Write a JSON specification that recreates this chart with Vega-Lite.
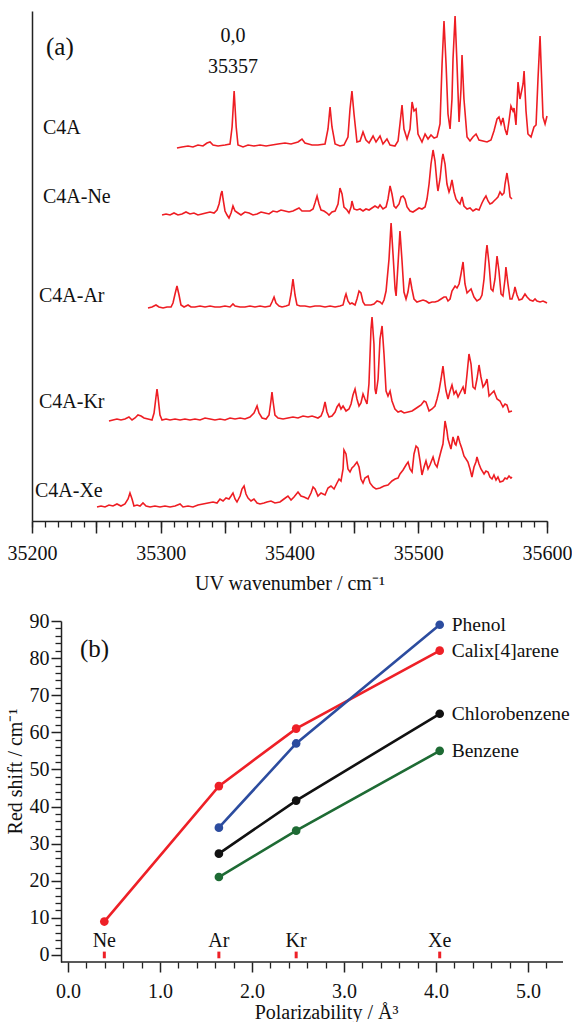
{
"$schema": "https://vega.github.io/schema/vega-lite/v6.json",
"padding": {"left": 5, "top": 11, "right": 0, "bottom": 0},
"config": {"font": "Liberation Serif", "view": {"stroke": null}, "axis": {"grid": false, "labelColor": "#111", "titleColor": "#111", "tickColor": "#222", "domainColor": "#222", "labelFont": "Liberation Serif", "titleFont": "Liberation Serif", "titleFontWeight": "normal"}},
"bounds": "flush",
"spacing": 100,
"datasets": {
"spec": [
{"s":"C4A","wn":35312.6,"y":373},{"s":"C4A","wn":35316.5,"y":374},{"s":"C4A","wn":35321.2,"y":375},{"s":"C4A","wn":35325.0,"y":374},{"s":"C4A","wn":35328.9,"y":376},{"s":"C4A","wn":35332.8,"y":375},{"s":"C4A","wn":35335.9,"y":378},{"s":"C4A","wn":35338.3,"y":379},{"s":"C4A","wn":35340.6,"y":376},{"s":"C4A","wn":35344.5,"y":375},{"s":"C4A","wn":35349.9,"y":376},{"s":"C4A","wn":35353.8,"y":377},{"s":"C4A","wn":35355.4,"y":394},{"s":"C4A","wn":35357.0,"y":430},{"s":"C4A","wn":35358.6,"y":394},{"s":"C4A","wn":35360.0,"y":376},{"s":"C4A","wn":35363.9,"y":374},{"s":"C4A","wn":35367.8,"y":376},{"s":"C4A","wn":35372.4,"y":375},{"s":"C4A","wn":35377.1,"y":376},{"s":"C4A","wn":35381.8,"y":375},{"s":"C4A","wn":35386.4,"y":376},{"s":"C4A","wn":35391.1,"y":377},{"s":"C4A","wn":35396.5,"y":378},{"s":"C4A","wn":35401.2,"y":377},{"s":"C4A","wn":35406.6,"y":379},{"s":"C4A","wn":35409.7,"y":382},{"s":"C4A","wn":35412.0,"y":378},{"s":"C4A","wn":35417.5,"y":376},{"s":"C4A","wn":35422.1,"y":376},{"s":"C4A","wn":35427.6,"y":377},{"s":"C4A","wn":35429.9,"y":392},{"s":"C4A","wn":35431.5,"y":414},{"s":"C4A","wn":35433.0,"y":394},{"s":"C4A","wn":35435.4,"y":377},{"s":"C4A","wn":35439.2,"y":375},{"s":"C4A","wn":35442.3,"y":376},{"s":"C4A","wn":35445.4,"y":384},{"s":"C4A","wn":35447.0,"y":412},{"s":"C4A","wn":35448.5,"y":430},{"s":"C4A","wn":35450.1,"y":407},{"s":"C4A","wn":35452.4,"y":379},{"s":"C4A","wn":35454.8,"y":380},{"s":"C4A","wn":35457.1,"y":389},{"s":"C4A","wn":35459.4,"y":381},{"s":"C4A","wn":35461.8,"y":378},{"s":"C4A","wn":35464.9,"y":385},{"s":"C4A","wn":35467.2,"y":379},{"s":"C4A","wn":35470.3,"y":385},{"s":"C4A","wn":35472.6,"y":377},{"s":"C4A","wn":35475.7,"y":382},{"s":"C4A","wn":35478.1,"y":376},{"s":"C4A","wn":35481.9,"y":375},{"s":"C4A","wn":35484.3,"y":380},{"s":"C4A","wn":35485.8,"y":397},{"s":"C4A","wn":35487.4,"y":416},{"s":"C4A","wn":35488.9,"y":392},{"s":"C4A","wn":35491.3,"y":382},{"s":"C4A","wn":35493.6,"y":392},{"s":"C4A","wn":35495.2,"y":419},{"s":"C4A","wn":35496.7,"y":410},{"s":"C4A","wn":35498.3,"y":412},{"s":"C4A","wn":35499.8,"y":387},{"s":"C4A","wn":35502.9,"y":379},{"s":"C4A","wn":35505.3,"y":387},{"s":"C4A","wn":35507.6,"y":382},{"s":"C4A","wn":35509.9,"y":386},{"s":"C4A","wn":35512.3,"y":383},{"s":"C4A","wn":35514.6,"y":384},{"s":"C4A","wn":35516.9,"y":397},{"s":"C4A","wn":35518.5,"y":457},{"s":"C4A","wn":35520.0,"y":500},{"s":"C4A","wn":35521.6,"y":457},{"s":"C4A","wn":35523.1,"y":407},{"s":"C4A","wn":35524.7,"y":392},{"s":"C4A","wn":35526.2,"y":422},{"s":"C4A","wn":35527.0,"y":462},{"s":"C4A","wn":35528.6,"y":505},{"s":"C4A","wn":35530.1,"y":457},{"s":"C4A","wn":35531.7,"y":399},{"s":"C4A","wn":35533.2,"y":432},{"s":"C4A","wn":35534.0,"y":466},{"s":"C4A","wn":35535.5,"y":422},{"s":"C4A","wn":35537.9,"y":384},{"s":"C4A","wn":35540.2,"y":380},{"s":"C4A","wn":35542.5,"y":384},{"s":"C4A","wn":35544.9,"y":387},{"s":"C4A","wn":35547.2,"y":381},{"s":"C4A","wn":35550.3,"y":380},{"s":"C4A","wn":35553.4,"y":379},{"s":"C4A","wn":35556.5,"y":381},{"s":"C4A","wn":35558.8,"y":390},{"s":"C4A","wn":35561.2,"y":402},{"s":"C4A","wn":35562.7,"y":404},{"s":"C4A","wn":35564.3,"y":397},{"s":"C4A","wn":35565.8,"y":403},{"s":"C4A","wn":35567.4,"y":392},{"s":"C4A","wn":35568.9,"y":386},{"s":"C4A","wn":35570.5,"y":400},{"s":"C4A","wn":35572.0,"y":415},{"s":"C4A","wn":35573.6,"y":410},{"s":"C4A","wn":35574.4,"y":413},{"s":"C4A","wn":35575.9,"y":396},{"s":"C4A","wn":35577.5,"y":439},{"s":"C4A","wn":35579.0,"y":422},{"s":"C4A","wn":35579.8,"y":427},{"s":"C4A","wn":35581.4,"y":437},{"s":"C4A","wn":35582.2,"y":450},{"s":"C4A","wn":35583.7,"y":410},{"s":"C4A","wn":35585.2,"y":387},{"s":"C4A","wn":35587.6,"y":384},{"s":"C4A","wn":35589.9,"y":394},{"s":"C4A","wn":35591.5,"y":396},{"s":"C4A","wn":35593.0,"y":442},{"s":"C4A","wn":35594.6,"y":485},{"s":"C4A","wn":35596.1,"y":432},{"s":"C4A","wn":35596.9,"y":404},{"s":"C4A","wn":35598.5,"y":397},{"s":"C4A","wn":35600.0,"y":405},
{"s":"Ne","wn":35301.0,"y":306},{"s":"Ne","wn":35304.1,"y":307},{"s":"Ne","wn":35307.2,"y":306},{"s":"Ne","wn":35310.3,"y":308},{"s":"Ne","wn":35313.4,"y":306},{"s":"Ne","wn":35316.5,"y":307},{"s":"Ne","wn":35319.6,"y":309},{"s":"Ne","wn":35322.7,"y":307},{"s":"Ne","wn":35325.8,"y":308},{"s":"Ne","wn":35328.9,"y":306},{"s":"Ne","wn":35332.0,"y":307},{"s":"Ne","wn":35335.1,"y":308},{"s":"Ne","wn":35338.3,"y":309},{"s":"Ne","wn":35341.4,"y":308},{"s":"Ne","wn":35343.7,"y":311},{"s":"Ne","wn":35345.3,"y":317},{"s":"Ne","wn":35346.8,"y":327},{"s":"Ne","wn":35347.6,"y":330},{"s":"Ne","wn":35348.4,"y":322},{"s":"Ne","wn":35349.9,"y":310},{"s":"Ne","wn":35351.5,"y":306},{"s":"Ne","wn":35353.0,"y":303},{"s":"Ne","wn":35354.6,"y":308},{"s":"Ne","wn":35356.1,"y":315},{"s":"Ne","wn":35357.7,"y":310},{"s":"Ne","wn":35360.0,"y":308},{"s":"Ne","wn":35362.3,"y":306},{"s":"Ne","wn":35365.4,"y":309},{"s":"Ne","wn":35368.6,"y":308},{"s":"Ne","wn":35371.7,"y":306},{"s":"Ne","wn":35374.8,"y":307},{"s":"Ne","wn":35377.9,"y":309},{"s":"Ne","wn":35381.0,"y":308},{"s":"Ne","wn":35384.1,"y":307},{"s":"Ne","wn":35387.2,"y":310},{"s":"Ne","wn":35390.3,"y":309},{"s":"Ne","wn":35393.4,"y":311},{"s":"Ne","wn":35396.5,"y":310},{"s":"Ne","wn":35399.6,"y":309},{"s":"Ne","wn":35402.7,"y":310},{"s":"Ne","wn":35405.8,"y":312},{"s":"Ne","wn":35407.4,"y":313},{"s":"Ne","wn":35409.7,"y":310},{"s":"Ne","wn":35412.8,"y":310},{"s":"Ne","wn":35415.9,"y":310},{"s":"Ne","wn":35418.3,"y":312},{"s":"Ne","wn":35419.8,"y":318},{"s":"Ne","wn":35421.4,"y":325},{"s":"Ne","wn":35422.9,"y":317},{"s":"Ne","wn":35424.5,"y":311},{"s":"Ne","wn":35426.8,"y":310},{"s":"Ne","wn":35429.1,"y":308},{"s":"Ne","wn":35430.7,"y":306},{"s":"Ne","wn":35433.0,"y":309},{"s":"Ne","wn":35435.4,"y":310},{"s":"Ne","wn":35437.7,"y":317},{"s":"Ne","wn":35439.2,"y":333},{"s":"Ne","wn":35440.8,"y":327},{"s":"Ne","wn":35442.3,"y":314},{"s":"Ne","wn":35444.7,"y":311},{"s":"Ne","wn":35446.2,"y":308},{"s":"Ne","wn":35447.8,"y":314},{"s":"Ne","wn":35448.5,"y":320},{"s":"Ne","wn":35450.1,"y":312},{"s":"Ne","wn":35452.4,"y":311},{"s":"Ne","wn":35454.8,"y":312},{"s":"Ne","wn":35457.1,"y":310},{"s":"Ne","wn":35459.4,"y":312},{"s":"Ne","wn":35461.8,"y":311},{"s":"Ne","wn":35464.1,"y":313},{"s":"Ne","wn":35466.4,"y":315},{"s":"Ne","wn":35468.8,"y":313},{"s":"Ne","wn":35470.3,"y":316},{"s":"Ne","wn":35472.6,"y":312},{"s":"Ne","wn":35475.0,"y":314},{"s":"Ne","wn":35476.5,"y":322},{"s":"Ne","wn":35478.1,"y":335},{"s":"Ne","wn":35479.6,"y":327},{"s":"Ne","wn":35481.2,"y":315},{"s":"Ne","wn":35482.7,"y":313},{"s":"Ne","wn":35485.1,"y":317},{"s":"Ne","wn":35486.6,"y":324},{"s":"Ne","wn":35488.2,"y":325},{"s":"Ne","wn":35489.7,"y":322},{"s":"Ne","wn":35491.3,"y":314},{"s":"Ne","wn":35493.6,"y":310},{"s":"Ne","wn":35495.9,"y":309},{"s":"Ne","wn":35498.3,"y":311},{"s":"Ne","wn":35500.6,"y":313},{"s":"Ne","wn":35502.9,"y":312},{"s":"Ne","wn":35505.3,"y":314},{"s":"Ne","wn":35506.8,"y":322},{"s":"Ne","wn":35508.4,"y":337},{"s":"Ne","wn":35509.9,"y":357},{"s":"Ne","wn":35511.5,"y":371},{"s":"Ne","wn":35513.0,"y":360},{"s":"Ne","wn":35514.6,"y":337},{"s":"Ne","wn":35515.3,"y":330},{"s":"Ne","wn":35516.9,"y":342},{"s":"Ne","wn":35518.5,"y":362},{"s":"Ne","wn":35519.2,"y":367},{"s":"Ne","wn":35520.8,"y":357},{"s":"Ne","wn":35522.3,"y":337},{"s":"Ne","wn":35523.9,"y":329},{"s":"Ne","wn":35524.7,"y":332},{"s":"Ne","wn":35526.2,"y":341},{"s":"Ne","wn":35527.0,"y":335},{"s":"Ne","wn":35527.8,"y":329},{"s":"Ne","wn":35529.3,"y":322},{"s":"Ne","wn":35530.9,"y":319},{"s":"Ne","wn":35532.4,"y":317},{"s":"Ne","wn":35534.0,"y":324},{"s":"Ne","wn":35535.5,"y":315},{"s":"Ne","wn":35537.9,"y":312},{"s":"Ne","wn":35540.2,"y":313},{"s":"Ne","wn":35542.5,"y":310},{"s":"Ne","wn":35544.9,"y":312},{"s":"Ne","wn":35547.2,"y":311},{"s":"Ne","wn":35549.5,"y":318},{"s":"Ne","wn":35551.1,"y":322},{"s":"Ne","wn":35552.6,"y":325},{"s":"Ne","wn":35554.2,"y":320},{"s":"Ne","wn":35555.7,"y":317},{"s":"Ne","wn":35557.3,"y":318},{"s":"Ne","wn":35558.8,"y":320},{"s":"Ne","wn":35560.4,"y":322},{"s":"Ne","wn":35561.9,"y":324},{"s":"Ne","wn":35563.5,"y":329},{"s":"Ne","wn":35565.1,"y":326},{"s":"Ne","wn":35566.6,"y":328},{"s":"Ne","wn":35567.4,"y":337},{"s":"Ne","wn":35568.9,"y":348},{"s":"Ne","wn":35570.5,"y":334},{"s":"Ne","wn":35571.3,"y":324},{"s":"Ne","wn":35572.8,"y":322},
{"s":"Ar","wn":35290.1,"y":213},{"s":"Ar","wn":35293.2,"y":214},{"s":"Ar","wn":35296.3,"y":216},{"s":"Ar","wn":35298.6,"y":214},{"s":"Ar","wn":35301.8,"y":213},{"s":"Ar","wn":35304.9,"y":214},{"s":"Ar","wn":35308.0,"y":214},{"s":"Ar","wn":35309.5,"y":218},{"s":"Ar","wn":35311.1,"y":227},{"s":"Ar","wn":35312.6,"y":235},{"s":"Ar","wn":35314.2,"y":226},{"s":"Ar","wn":35315.7,"y":216},{"s":"Ar","wn":35318.1,"y":214},{"s":"Ar","wn":35321.2,"y":216},{"s":"Ar","wn":35323.5,"y":214},{"s":"Ar","wn":35326.6,"y":214},{"s":"Ar","wn":35330.5,"y":215},{"s":"Ar","wn":35334.4,"y":214},{"s":"Ar","wn":35338.3,"y":215},{"s":"Ar","wn":35342.1,"y":214},{"s":"Ar","wn":35346.0,"y":214},{"s":"Ar","wn":35349.9,"y":215},{"s":"Ar","wn":35353.8,"y":214},{"s":"Ar","wn":35356.1,"y":217},{"s":"Ar","wn":35357.7,"y":215},{"s":"Ar","wn":35361.6,"y":214},{"s":"Ar","wn":35365.4,"y":214},{"s":"Ar","wn":35369.3,"y":215},{"s":"Ar","wn":35373.2,"y":214},{"s":"Ar","wn":35377.1,"y":215},{"s":"Ar","wn":35381.0,"y":214},{"s":"Ar","wn":35384.9,"y":215},{"s":"Ar","wn":35386.4,"y":219},{"s":"Ar","wn":35388.0,"y":224},{"s":"Ar","wn":35389.5,"y":218},{"s":"Ar","wn":35391.9,"y":215},{"s":"Ar","wn":35394.2,"y":214},{"s":"Ar","wn":35397.3,"y":215},{"s":"Ar","wn":35399.6,"y":216},{"s":"Ar","wn":35401.2,"y":227},{"s":"Ar","wn":35402.7,"y":242},{"s":"Ar","wn":35404.3,"y":226},{"s":"Ar","wn":35405.8,"y":216},{"s":"Ar","wn":35408.2,"y":215},{"s":"Ar","wn":35412.0,"y":215},{"s":"Ar","wn":35415.9,"y":214},{"s":"Ar","wn":35419.8,"y":215},{"s":"Ar","wn":35423.7,"y":215},{"s":"Ar","wn":35427.6,"y":214},{"s":"Ar","wn":35431.5,"y":215},{"s":"Ar","wn":35435.4,"y":214},{"s":"Ar","wn":35439.2,"y":215},{"s":"Ar","wn":35441.6,"y":216},{"s":"Ar","wn":35443.1,"y":224},{"s":"Ar","wn":35443.9,"y":227},{"s":"Ar","wn":35445.4,"y":220},{"s":"Ar","wn":35447.0,"y":217},{"s":"Ar","wn":35448.5,"y":218},{"s":"Ar","wn":35450.9,"y":216},{"s":"Ar","wn":35452.4,"y":222},{"s":"Ar","wn":35454.0,"y":230},{"s":"Ar","wn":35455.5,"y":228},{"s":"Ar","wn":35457.1,"y":219},{"s":"Ar","wn":35458.6,"y":216},{"s":"Ar","wn":35461.0,"y":216},{"s":"Ar","wn":35463.3,"y":216},{"s":"Ar","wn":35465.6,"y":217},{"s":"Ar","wn":35468.0,"y":220},{"s":"Ar","wn":35470.3,"y":219},{"s":"Ar","wn":35471.9,"y":217},{"s":"Ar","wn":35473.4,"y":221},{"s":"Ar","wn":35475.0,"y":230},{"s":"Ar","wn":35477.3,"y":262},{"s":"Ar","wn":35478.9,"y":298},{"s":"Ar","wn":35480.4,"y":267},{"s":"Ar","wn":35482.0,"y":232},{"s":"Ar","wn":35482.8,"y":225},{"s":"Ar","wn":35484.3,"y":257},{"s":"Ar","wn":35485.8,"y":290},{"s":"Ar","wn":35487.4,"y":260},{"s":"Ar","wn":35488.9,"y":229},{"s":"Ar","wn":35490.5,"y":222},{"s":"Ar","wn":35492.0,"y":229},{"s":"Ar","wn":35493.6,"y":243},{"s":"Ar","wn":35495.1,"y":232},{"s":"Ar","wn":35496.7,"y":222},{"s":"Ar","wn":35499.0,"y":219},{"s":"Ar","wn":35501.4,"y":220},{"s":"Ar","wn":35503.7,"y":221},{"s":"Ar","wn":35506.0,"y":220},{"s":"Ar","wn":35508.3,"y":218},{"s":"Ar","wn":35510.7,"y":219},{"s":"Ar","wn":35513.0,"y":219},{"s":"Ar","wn":35515.3,"y":220},{"s":"Ar","wn":35517.7,"y":222},{"s":"Ar","wn":35520.0,"y":224},{"s":"Ar","wn":35521.6,"y":224},{"s":"Ar","wn":35523.1,"y":220},{"s":"Ar","wn":35524.7,"y":222},{"s":"Ar","wn":35526.2,"y":230},{"s":"Ar","wn":35528.6,"y":235},{"s":"Ar","wn":35530.1,"y":233},{"s":"Ar","wn":35531.7,"y":237},{"s":"Ar","wn":35533.2,"y":247},{"s":"Ar","wn":35534.8,"y":259},{"s":"Ar","wn":35536.3,"y":237},{"s":"Ar","wn":35537.9,"y":228},{"s":"Ar","wn":35539.4,"y":230},{"s":"Ar","wn":35541.0,"y":232},{"s":"Ar","wn":35543.3,"y":224},{"s":"Ar","wn":35545.6,"y":220},{"s":"Ar","wn":35548.0,"y":222},{"s":"Ar","wn":35549.5,"y":226},{"s":"Ar","wn":35551.1,"y":242},{"s":"Ar","wn":35552.6,"y":267},{"s":"Ar","wn":35553.4,"y":276},{"s":"Ar","wn":35555.0,"y":257},{"s":"Ar","wn":35556.5,"y":232},{"s":"Ar","wn":35558.0,"y":230},{"s":"Ar","wn":35559.6,"y":242},{"s":"Ar","wn":35561.2,"y":265},{"s":"Ar","wn":35562.7,"y":250},{"s":"Ar","wn":35564.3,"y":227},{"s":"Ar","wn":35565.8,"y":225},{"s":"Ar","wn":35567.4,"y":242},{"s":"Ar","wn":35568.1,"y":254},{"s":"Ar","wn":35569.7,"y":237},{"s":"Ar","wn":35571.3,"y":222},{"s":"Ar","wn":35572.8,"y":222},{"s":"Ar","wn":35574.4,"y":229},{"s":"Ar","wn":35575.1,"y":234},{"s":"Ar","wn":35576.7,"y":226},{"s":"Ar","wn":35578.3,"y":221},{"s":"Ar","wn":35580.6,"y":222},{"s":"Ar","wn":35582.9,"y":227},{"s":"Ar","wn":35584.5,"y":224},{"s":"Ar","wn":35586.8,"y":221},{"s":"Ar","wn":35589.1,"y":220},{"s":"Ar","wn":35590.7,"y":222},{"s":"Ar","wn":35592.2,"y":220},{"s":"Ar","wn":35594.6,"y":219},{"s":"Ar","wn":35596.9,"y":220},{"s":"Ar","wn":35598.5,"y":219},{"s":"Ar","wn":35600.0,"y":218},
{"s":"Kr","wn":35259.8,"y":100},{"s":"Kr","wn":35262.9,"y":101},{"s":"Kr","wn":35266.0,"y":102},{"s":"Kr","wn":35269.1,"y":101},{"s":"Kr","wn":35272.2,"y":102},{"s":"Kr","wn":35275.3,"y":104},{"s":"Kr","wn":35277.7,"y":101},{"s":"Kr","wn":35280.0,"y":103},{"s":"Kr","wn":35282.3,"y":106},{"s":"Kr","wn":35284.7,"y":105},{"s":"Kr","wn":35287.0,"y":103},{"s":"Kr","wn":35290.1,"y":102},{"s":"Kr","wn":35293.2,"y":101},{"s":"Kr","wn":35294.8,"y":108},{"s":"Kr","wn":35296.3,"y":124},{"s":"Kr","wn":35297.1,"y":132},{"s":"Kr","wn":35297.9,"y":124},{"s":"Kr","wn":35299.4,"y":106},{"s":"Kr","wn":35301.0,"y":101},{"s":"Kr","wn":35304.1,"y":102},{"s":"Kr","wn":35307.2,"y":101},{"s":"Kr","wn":35311.1,"y":102},{"s":"Kr","wn":35315.0,"y":101},{"s":"Kr","wn":35318.8,"y":102},{"s":"Kr","wn":35322.7,"y":101},{"s":"Kr","wn":35326.6,"y":102},{"s":"Kr","wn":35330.5,"y":101},{"s":"Kr","wn":35334.4,"y":103},{"s":"Kr","wn":35338.3,"y":102},{"s":"Kr","wn":35342.1,"y":101},{"s":"Kr","wn":35346.0,"y":102},{"s":"Kr","wn":35349.9,"y":101},{"s":"Kr","wn":35353.8,"y":103},{"s":"Kr","wn":35357.7,"y":102},{"s":"Kr","wn":35361.6,"y":103},{"s":"Kr","wn":35365.4,"y":102},{"s":"Kr","wn":35369.3,"y":104},{"s":"Kr","wn":35372.4,"y":108},{"s":"Kr","wn":35374.8,"y":115},{"s":"Kr","wn":35376.3,"y":108},{"s":"Kr","wn":35378.7,"y":103},{"s":"Kr","wn":35381.8,"y":102},{"s":"Kr","wn":35384.1,"y":106},{"s":"Kr","wn":35385.6,"y":120},{"s":"Kr","wn":35386.4,"y":129},{"s":"Kr","wn":35387.2,"y":120},{"s":"Kr","wn":35388.7,"y":106},{"s":"Kr","wn":35391.1,"y":103},{"s":"Kr","wn":35395.0,"y":102},{"s":"Kr","wn":35398.8,"y":103},{"s":"Kr","wn":35402.7,"y":104},{"s":"Kr","wn":35406.6,"y":103},{"s":"Kr","wn":35410.5,"y":105},{"s":"Kr","wn":35414.4,"y":104},{"s":"Kr","wn":35417.5,"y":105},{"s":"Kr","wn":35419.8,"y":104},{"s":"Kr","wn":35422.1,"y":103},{"s":"Kr","wn":35424.5,"y":105},{"s":"Kr","wn":35426.0,"y":110},{"s":"Kr","wn":35427.6,"y":119},{"s":"Kr","wn":35429.1,"y":109},{"s":"Kr","wn":35430.7,"y":104},{"s":"Kr","wn":35433.0,"y":105},{"s":"Kr","wn":35435.4,"y":109},{"s":"Kr","wn":35436.9,"y":114},{"s":"Kr","wn":35438.5,"y":117},{"s":"Kr","wn":35440.0,"y":112},{"s":"Kr","wn":35441.6,"y":115},{"s":"Kr","wn":35443.9,"y":110},{"s":"Kr","wn":35446.2,"y":112},{"s":"Kr","wn":35447.8,"y":117},{"s":"Kr","wn":35449.3,"y":126},{"s":"Kr","wn":35450.9,"y":132},{"s":"Kr","wn":35452.4,"y":122},{"s":"Kr","wn":35454.0,"y":115},{"s":"Kr","wn":35455.5,"y":118},{"s":"Kr","wn":35457.1,"y":127},{"s":"Kr","wn":35458.6,"y":122},{"s":"Kr","wn":35460.2,"y":117},{"s":"Kr","wn":35461.7,"y":137},{"s":"Kr","wn":35463.3,"y":192},{"s":"Kr","wn":35464.1,"y":204},{"s":"Kr","wn":35465.6,"y":177},{"s":"Kr","wn":35466.4,"y":132},{"s":"Kr","wn":35467.2,"y":127},{"s":"Kr","wn":35468.8,"y":142},{"s":"Kr","wn":35470.3,"y":182},{"s":"Kr","wn":35471.9,"y":195},{"s":"Kr","wn":35473.4,"y":167},{"s":"Kr","wn":35475.0,"y":130},{"s":"Kr","wn":35476.5,"y":125},{"s":"Kr","wn":35478.1,"y":130},{"s":"Kr","wn":35479.6,"y":120},{"s":"Kr","wn":35481.9,"y":112},{"s":"Kr","wn":35484.3,"y":109},{"s":"Kr","wn":35486.6,"y":110},{"s":"Kr","wn":35489.0,"y":108},{"s":"Kr","wn":35492.1,"y":109},{"s":"Kr","wn":35495.2,"y":110},{"s":"Kr","wn":35497.5,"y":112},{"s":"Kr","wn":35499.8,"y":114},{"s":"Kr","wn":35502.2,"y":116},{"s":"Kr","wn":35504.5,"y":120},{"s":"Kr","wn":35506.0,"y":119},{"s":"Kr","wn":35508.4,"y":110},{"s":"Kr","wn":35510.7,"y":112},{"s":"Kr","wn":35513.0,"y":115},{"s":"Kr","wn":35514.6,"y":122},{"s":"Kr","wn":35516.1,"y":130},{"s":"Kr","wn":35517.7,"y":142},{"s":"Kr","wn":35519.2,"y":155},{"s":"Kr","wn":35520.8,"y":137},{"s":"Kr","wn":35521.6,"y":130},{"s":"Kr","wn":35523.1,"y":122},{"s":"Kr","wn":35524.7,"y":130},{"s":"Kr","wn":35526.2,"y":136},{"s":"Kr","wn":35527.8,"y":127},{"s":"Kr","wn":35529.3,"y":130},{"s":"Kr","wn":35530.9,"y":124},{"s":"Kr","wn":35532.4,"y":128},{"s":"Kr","wn":35534.0,"y":132},{"s":"Kr","wn":35534.8,"y":134},{"s":"Kr","wn":35536.3,"y":127},{"s":"Kr","wn":35537.9,"y":147},{"s":"Kr","wn":35539.4,"y":167},{"s":"Kr","wn":35541.0,"y":157},{"s":"Kr","wn":35542.5,"y":134},{"s":"Kr","wn":35544.1,"y":132},{"s":"Kr","wn":35545.6,"y":142},{"s":"Kr","wn":35547.2,"y":156},{"s":"Kr","wn":35548.7,"y":144},{"s":"Kr","wn":35550.3,"y":134},{"s":"Kr","wn":35551.9,"y":137},{"s":"Kr","wn":35553.4,"y":142},{"s":"Kr","wn":35555.0,"y":125},{"s":"Kr","wn":35556.5,"y":127},{"s":"Kr","wn":35558.8,"y":130},{"s":"Kr","wn":35561.2,"y":122},{"s":"Kr","wn":35563.5,"y":120},{"s":"Kr","wn":35565.8,"y":114},{"s":"Kr","wn":35567.4,"y":117},{"s":"Kr","wn":35568.9,"y":116},{"s":"Kr","wn":35570.5,"y":109},{"s":"Kr","wn":35572.8,"y":110},
{"s":"Xe","wn":35250.5,"y":14},{"s":"Xe","wn":35253.6,"y":15},{"s":"Xe","wn":35256.7,"y":14},{"s":"Xe","wn":35259.8,"y":16},{"s":"Xe","wn":35262.9,"y":15},{"s":"Xe","wn":35266.0,"y":17},{"s":"Xe","wn":35269.1,"y":15},{"s":"Xe","wn":35272.2,"y":17},{"s":"Xe","wn":35274.6,"y":22},{"s":"Xe","wn":35276.1,"y":28},{"s":"Xe","wn":35277.7,"y":22},{"s":"Xe","wn":35279.2,"y":15},{"s":"Xe","wn":35281.6,"y":16},{"s":"Xe","wn":35283.9,"y":15},{"s":"Xe","wn":35286.2,"y":18},{"s":"Xe","wn":35288.6,"y":15},{"s":"Xe","wn":35291.7,"y":14},{"s":"Xe","wn":35295.5,"y":15},{"s":"Xe","wn":35299.4,"y":14},{"s":"Xe","wn":35303.3,"y":15},{"s":"Xe","wn":35307.2,"y":14},{"s":"Xe","wn":35311.1,"y":15},{"s":"Xe","wn":35315.0,"y":17},{"s":"Xe","wn":35317.3,"y":14},{"s":"Xe","wn":35321.2,"y":15},{"s":"Xe","wn":35325.0,"y":14},{"s":"Xe","wn":35328.9,"y":16},{"s":"Xe","wn":35332.8,"y":17},{"s":"Xe","wn":35336.7,"y":18},{"s":"Xe","wn":35340.6,"y":19},{"s":"Xe","wn":35343.7,"y":18},{"s":"Xe","wn":35346.0,"y":22},{"s":"Xe","wn":35348.4,"y":20},{"s":"Xe","wn":35350.7,"y":23},{"s":"Xe","wn":35353.0,"y":22},{"s":"Xe","wn":35354.6,"y":25},{"s":"Xe","wn":35356.1,"y":28},{"s":"Xe","wn":35357.7,"y":22},{"s":"Xe","wn":35359.2,"y":19},{"s":"Xe","wn":35361.6,"y":25},{"s":"Xe","wn":35363.1,"y":32},{"s":"Xe","wn":35364.7,"y":35},{"s":"Xe","wn":35366.2,"y":27},{"s":"Xe","wn":35367.8,"y":23},{"s":"Xe","wn":35370.1,"y":20},{"s":"Xe","wn":35372.4,"y":22},{"s":"Xe","wn":35374.8,"y":18},{"s":"Xe","wn":35377.1,"y":17},{"s":"Xe","wn":35380.2,"y":18},{"s":"Xe","wn":35382.5,"y":19},{"s":"Xe","wn":35385.6,"y":20},{"s":"Xe","wn":35388.7,"y":18},{"s":"Xe","wn":35392.6,"y":19},{"s":"Xe","wn":35395.7,"y":22},{"s":"Xe","wn":35398.8,"y":25},{"s":"Xe","wn":35401.2,"y":21},{"s":"Xe","wn":35403.5,"y":24},{"s":"Xe","wn":35406.6,"y":29},{"s":"Xe","wn":35408.9,"y":25},{"s":"Xe","wn":35411.3,"y":24},{"s":"Xe","wn":35414.4,"y":22},{"s":"Xe","wn":35416.7,"y":28},{"s":"Xe","wn":35418.3,"y":34},{"s":"Xe","wn":35419.8,"y":32},{"s":"Xe","wn":35422.1,"y":25},{"s":"Xe","wn":35424.5,"y":28},{"s":"Xe","wn":35427.6,"y":26},{"s":"Xe","wn":35429.9,"y":33},{"s":"Xe","wn":35432.2,"y":35},{"s":"Xe","wn":35434.6,"y":32},{"s":"Xe","wn":35436.9,"y":38},{"s":"Xe","wn":35438.5,"y":42},{"s":"Xe","wn":35440.0,"y":40},{"s":"Xe","wn":35441.6,"y":52},{"s":"Xe","wn":35442.3,"y":71},{"s":"Xe","wn":35443.9,"y":67},{"s":"Xe","wn":35445.4,"y":52},{"s":"Xe","wn":35447.0,"y":49},{"s":"Xe","wn":35448.5,"y":53},{"s":"Xe","wn":35450.1,"y":55},{"s":"Xe","wn":35452.4,"y":59},{"s":"Xe","wn":35454.0,"y":54},{"s":"Xe","wn":35455.5,"y":42},{"s":"Xe","wn":35457.1,"y":38},{"s":"Xe","wn":35458.6,"y":43},{"s":"Xe","wn":35461.0,"y":45},{"s":"Xe","wn":35462.5,"y":38},{"s":"Xe","wn":35464.9,"y":34},{"s":"Xe","wn":35467.2,"y":32},{"s":"Xe","wn":35470.3,"y":33},{"s":"Xe","wn":35473.4,"y":35},{"s":"Xe","wn":35476.5,"y":36},{"s":"Xe","wn":35479.6,"y":40},{"s":"Xe","wn":35482.0,"y":42},{"s":"Xe","wn":35484.3,"y":43},{"s":"Xe","wn":35485.8,"y":47},{"s":"Xe","wn":35488.2,"y":51},{"s":"Xe","wn":35490.5,"y":56},{"s":"Xe","wn":35492.1,"y":59},{"s":"Xe","wn":35493.6,"y":52},{"s":"Xe","wn":35495.2,"y":49},{"s":"Xe","wn":35496.7,"y":67},{"s":"Xe","wn":35498.3,"y":75},{"s":"Xe","wn":35499.8,"y":73},{"s":"Xe","wn":35501.4,"y":60},{"s":"Xe","wn":35502.9,"y":46},{"s":"Xe","wn":35504.5,"y":54},{"s":"Xe","wn":35506.0,"y":60},{"s":"Xe","wn":35507.6,"y":52},{"s":"Xe","wn":35509.1,"y":56},{"s":"Xe","wn":35511.5,"y":64},{"s":"Xe","wn":35513.0,"y":57},{"s":"Xe","wn":35514.6,"y":54},{"s":"Xe","wn":35516.1,"y":62},{"s":"Xe","wn":35517.7,"y":70},{"s":"Xe","wn":35519.2,"y":77},{"s":"Xe","wn":35520.8,"y":100},{"s":"Xe","wn":35522.3,"y":90},{"s":"Xe","wn":35523.1,"y":82},{"s":"Xe","wn":35524.7,"y":75},{"s":"Xe","wn":35525.4,"y":72},{"s":"Xe","wn":35527.0,"y":84},{"s":"Xe","wn":35528.6,"y":77},{"s":"Xe","wn":35529.3,"y":76},{"s":"Xe","wn":35530.9,"y":85},{"s":"Xe","wn":35532.4,"y":78},{"s":"Xe","wn":35534.0,"y":72},{"s":"Xe","wn":35535.5,"y":65},{"s":"Xe","wn":35537.1,"y":62},{"s":"Xe","wn":35538.6,"y":59},{"s":"Xe","wn":35540.2,"y":52},{"s":"Xe","wn":35541.7,"y":44},{"s":"Xe","wn":35543.3,"y":54},{"s":"Xe","wn":35544.8,"y":59},{"s":"Xe","wn":35545.6,"y":64},{"s":"Xe","wn":35547.2,"y":57},{"s":"Xe","wn":35548.7,"y":52},{"s":"Xe","wn":35551.1,"y":47},{"s":"Xe","wn":35552.6,"y":50},{"s":"Xe","wn":35554.2,"y":49},{"s":"Xe","wn":35555.7,"y":44},{"s":"Xe","wn":35557.3,"y":42},{"s":"Xe","wn":35558.8,"y":46},{"s":"Xe","wn":35560.4,"y":41},{"s":"Xe","wn":35561.9,"y":44},{"s":"Xe","wn":35563.5,"y":39},{"s":"Xe","wn":35565.8,"y":40},{"s":"Xe","wn":35567.4,"y":43},{"s":"Xe","wn":35568.9,"y":42},{"s":"Xe","wn":35570.5,"y":45},{"s":"Xe","wn":35572.0,"y":43},{"s":"Xe","wn":35572.8,"y":44}
],
"names": [
{"label":"C4A","wn":35208.5,"y":393},{"label":"C4A-Ne","wn":35208.5,"y":324},{"label":"C4A-Ar","wn":35205.4,"y":225},{"label":"C4A-Kr","wn":35205.4,"y":119},{"label":"C4A-Xe","wn":35202.3,"y":30}
],
"shift": [
{"sub":"Calix[4]arene","pol":0.395,"shift":9},{"sub":"Calix[4]arene","pol":1.64,"shift":45.5},{"sub":"Calix[4]arene","pol":2.48,"shift":61},{"sub":"Calix[4]arene","pol":4.04,"shift":82},
{"sub":"Phenol","pol":1.64,"shift":34.3},{"sub":"Phenol","pol":2.48,"shift":57},{"sub":"Phenol","pol":4.04,"shift":89},
{"sub":"Chlorobenzene","pol":1.64,"shift":27.3},{"sub":"Chlorobenzene","pol":2.48,"shift":41.6},{"sub":"Chlorobenzene","pol":4.04,"shift":65},
{"sub":"Benzene","pol":1.64,"shift":21},{"sub":"Benzene","pol":2.48,"shift":33.5},{"sub":"Benzene","pol":4.04,"shift":55}
],
"gases": [
{"gas":"Ne","pol":0.395},{"gas":"Ar","pol":1.64},{"gas":"Kr","pol":2.48},{"gas":"Xe","pol":4.04}
]
},
"vconcat": [
{
"width": 515, "height": 510,
"layer": [
{
"data": {"name": "spec"},
"mark": {"type": "line", "color": "#ee1d23", "strokeWidth": 1.6},
"encoding": {
"x": {"field": "wn", "type": "quantitative", "scale": {"domain": [35200, 35600], "nice": false, "zero": false},
 "axis": {"orient": "bottom", "values": [35200,35250,35300,35350,35400,35450,35500,35550,35600], "format": "d", "labelExpr": "datum.value % 100 === 0 ? datum.label : ''", "tickSize": 12, "tickWidth": 1.5, "domainWidth": 1.5, "labelFontSize": 20, "labelPadding": 10, "labelFlush": false, "labelOverlap": false, "title": "UV wavenumber / cm⁻¹", "titleFontSize": 20, "titleY": 68, "titleBaseline": "alphabetic"}},
"y": {"field": "y", "type": "quantitative", "scale": {"domain": [0, 510], "nice": false, "zero": false},
 "axis": {"orient": "left", "ticks": false, "labels": false, "title": null, "domainWidth": 1.5}},
"detail": {"field": "s", "type": "nominal"}
}
},
{
"data": {"name": "names"},
"mark": {"type": "text", "align": "left", "baseline": "middle", "fontSize": 20, "color": "#111"},
"encoding": {
"x": {"field": "wn", "type": "quantitative", "scale": {"domain": [35200, 35600], "nice": false, "zero": false},
 "axis": {"orient": "bottom", "values": [35200,35210,35220,35230,35240,35250,35260,35270,35280,35290,35300,35310,35320,35330,35340,35350,35360,35370,35380,35390,35400,35410,35420,35430,35440,35450,35460,35470,35480,35490,35500,35510,35520,35530,35540,35550,35560,35570,35580,35590,35600], "tickSize": 6, "tickWidth": 1.3, "labels": false, "domain": false, "title": null}},
"y": {"field": "y", "type": "quantitative", "scale": {"domain": [0, 510], "nice": false, "zero": false}, "axis": null},
"text": {"field": "label"}
}
},
{
"data": {"values": [{}]},
"mark": {"type": "text", "text": "(a)", "align": "left", "baseline": "middle", "fontSize": 25, "color": "#111"},
"encoding": {"x": {"datum": 35210.9, "type": "quantitative", "axis": null}, "y": {"datum": 474, "type": "quantitative", "axis": null}}
},
{
"data": {"values": [{}]},
"mark": {"type": "text", "text": "0,0", "align": "center", "baseline": "middle", "fontSize": 20, "color": "#111"},
"encoding": {"x": {"datum": 35356.1, "type": "quantitative", "axis": null}, "y": {"datum": 485, "type": "quantitative", "axis": null}}
},
{
"data": {"values": [{}]},
"mark": {"type": "text", "text": "35357", "align": "center", "baseline": "middle", "fontSize": 20, "color": "#111"},
"encoding": {"x": {"datum": 35356.1, "type": "quantitative", "axis": null}, "y": {"datum": 454, "type": "quantitative", "axis": null}}
}
],
"resolve": {"axis": {"x": "independent", "y": "independent"}}
},
{
"width": 531, "height": 341,
"layer": [
{
"data": {"name": "shift"},
"mark": {"type": "line", "strokeWidth": 2.6},
"encoding": {
"x": {"field": "pol", "type": "quantitative", "scale": {"domain": [-0.391, 5.38], "nice": false, "zero": false},
 "axis": {"orient": "bottom", "values": [0,1,2,3,4,5], "format": ".1f", "tickSize": 10, "tickWidth": 1.5, "domain": false, "labelFontSize": 20, "labelPadding": 9, "labelFlush": false, "title": "Polarizability / Å³", "titleFontSize": 20, "titleX": 294, "titleY": 56, "titleBaseline": "alphabetic"}},
"y": {"field": "shift", "type": "quantitative", "scale": {"domain": [-1.9, 90], "nice": false, "zero": false},
 "axis": {"orient": "left", "offset": -29, "values": [0,10,20,30,40,50,60,70,80,90], "tickSize": 10, "tickWidth": 1.5, "domainWidth": 1.5, "labelFontSize": 20, "labelPadding": 2, "title": "Red shift / cm⁻¹", "titleFontSize": 20, "titleX": -46, "titleY": 150, "titleAngle": -90, "titleBaseline": "middle", "titleAlign": "center"}},
"color": {"field": "sub", "type": "nominal", "scale": {"domain": ["Calix[4]arene","Phenol","Chlorobenzene","Benzene"], "range": ["#ee2027","#2c4c9f","#111111","#1e6b34"]}, "legend": null}
}
},
{
"data": {"name": "shift"},
"mark": {"type": "circle", "size": 75, "opacity": 1},
"encoding": {
"x": {"field": "pol", "type": "quantitative", "scale": {"domain": [-0.391, 5.38], "nice": false, "zero": false},
 "axis": {"orient": "bottom", "values": [0.2,0.4,0.6,0.8,1.2,1.4,1.6,1.8,2.2,2.4,2.6,2.8,3.2,3.4,3.6,3.8,4.2,4.4,4.6,4.8,5.2], "tickSize": 6, "tickWidth": 1.3, "labels": false, "domain": false, "title": null}},
"y": {"field": "shift", "type": "quantitative", "scale": {"domain": [-1.9, 90], "nice": false, "zero": false},
 "axis": {"orient": "left", "offset": -29, "values": [2,4,6,8,12,14,16,18,22,24,26,28,32,34,36,38,42,44,46,48,52,54,56,58,62,64,66,68,72,74,76,78,82,84,86,88], "tickSize": 6, "tickWidth": 1.3, "labels": false, "domain": false, "title": null}},
"color": {"field": "sub", "type": "nominal", "scale": {"domain": ["Calix[4]arene","Phenol","Chlorobenzene","Benzene"], "range": ["#ee2027","#2c4c9f","#111111","#1e6b34"]}, "legend": null}
}
},
{
"data": {"name": "shift"},
"transform": [{"filter": "datum.pol > 4"}],
"mark": {"type": "text", "align": "left", "baseline": "middle", "dx": 12, "fontSize": 19.5, "color": "#111"},
"encoding": {
"x": {"field": "pol", "type": "quantitative", "axis": null},
"y": {"field": "shift", "type": "quantitative", "axis": null},
"text": {"field": "sub"}
}
},
{
"data": {"name": "gases"},
"mark": {"type": "text", "align": "center", "baseline": "middle", "fontSize": 20, "color": "#111"},
"encoding": {
"x": {"field": "pol", "type": "quantitative", "axis": null},
"y": {"datum": 3.8, "type": "quantitative", "axis": null},
"text": {"field": "gas"}
}
},
{
"data": {"name": "gases"},
"mark": {"type": "rule", "color": "#ee2027", "strokeWidth": 3},
"encoding": {
"x": {"field": "pol", "type": "quantitative", "axis": null},
"y": {"datum": -0.9, "type": "quantitative", "axis": null},
"y2": {"datum": 0.9}
}
},
{
"data": {"values": [{}]},
"mark": {"type": "rule", "color": "#222", "strokeWidth": 1.5},
"encoding": {
"x": {"datum": -0.076, "type": "quantitative", "axis": null},
"x2": {"datum": 5.38},
"y": {"datum": -1.9, "type": "quantitative", "axis": null}
}
},
{
"data": {"values": [{}]},
"mark": {"type": "text", "text": "(b)", "align": "left", "baseline": "middle", "fontSize": 25, "color": "#111"},
"encoding": {"x": {"datum": 0.13, "type": "quantitative", "axis": null}, "y": {"datum": 82.5, "type": "quantitative", "axis": null}}
}
],
"resolve": {"axis": {"x": "independent", "y": "independent"}}
}
]
}
